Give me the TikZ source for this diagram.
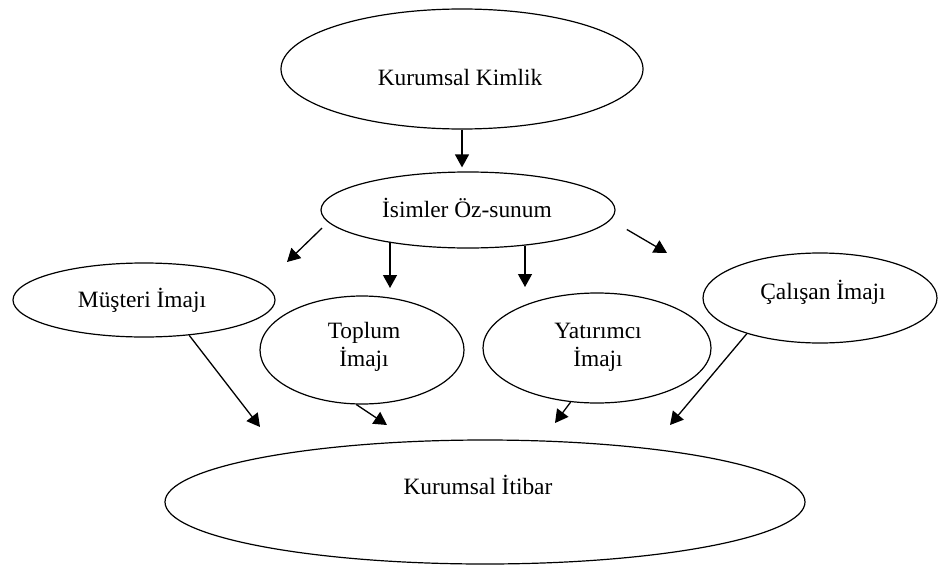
\documentclass[tikz,border=0pt]{standalone}
\usepackage{fontspec}
\setmainfont{Liberation Serif}
\usetikzlibrary{shapes.geometric,arrows.meta}
\begin{document}
\begin{tikzpicture}[x=0.5pt,y=-0.5pt,
  oval/.style={draw,ellipse,line width=0.6pt,inner sep=0pt},
  lbl/.style={font=\fontsize{11.7}{14}\selectfont,inner sep=0pt,align=center},
  arr/.style={line width=0.65pt,-{Triangle[length=6.5pt,width=7pt]}}]
% canvas
\fill[white] (0,0) rectangle (940,567);
\useasboundingbox (0,0) rectangle (940,567);

% ellipses (minimum width/height given as the full axes)
\node[oval,minimum width=181pt,minimum height=60pt] (kim) at (462,69) {};
\node[oval,minimum width=147pt,minimum height=38pt] (isim) at (468,210) {};
\node[oval,minimum width=131pt,minimum height=37pt] (mus) at (144,300) {};
\node[oval,minimum width=102pt,minimum height=54pt] (top) at (362,350) {};
\node[oval,minimum width=114pt,minimum height=55pt] (yat) at (597,348) {};
\node[oval,minimum width=117pt,minimum height=45pt] (cal) at (820,298) {};
\node[oval,minimum width=320pt,minimum height=62pt] (itb) at (485,502) {};

% labels
\node[lbl] (kimt) at (460,77) {Kurumsal Kimlik};
\node[lbl] (isimt) at (467,208) {İsimler Öz-sunum};
\node[lbl] (must) at (142,300) {Müşteri İmajı};
\node[lbl] (topt) at (364,347) {Toplum\\İmajı};
\node[lbl] (yatt) at (598,347) {Yatırımcı\\İmajı};
\node[lbl] (calt) at (823,292) {Çalışan İmajı};
\node[lbl] (itbt) at (478,485) {Kurumsal İtibar};

% free arrow ends
\coordinate (e1) at (287,262);
\coordinate (e2) at (390,288);
\coordinate (e3) at (525,287);
\coordinate (e4) at (667,253);
\coordinate (e5) at (260,427);
\coordinate (e6) at (387,425);
\coordinate (e7) at (555,423);
\coordinate (e8) at (670,425);

% arrows
\draw[arr,shorten >=2pt] (kim.south) -- (kim.south |- isim.north);
\draw[arr,shorten <=4.2pt] (isim.185) -- (e1);
\draw[arr] (e2 |- isim.202) -- (e2);
\draw[arr] (e3 |- isim.328) -- (e3);
\draw[arr,shorten <=9.4pt] (isim.356) -- (e4);
\draw[arr] (mus.322) -- (e5);
\draw[arr] (top.264) -- (e6);
\draw[arr] (yat.244) -- (e7);
\draw[arr] (cal.206) -- (e8);
\end{tikzpicture}
\end{document}
